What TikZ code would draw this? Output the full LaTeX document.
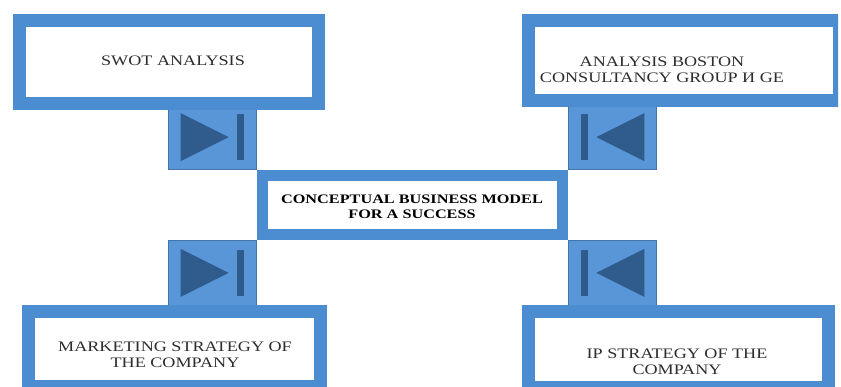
\documentclass[tikz,border=0pt]{standalone}
\usepackage{fontspec}
\setmainfont{Liberation Serif}
\newfontfamily\wideserif[FakeStretch=1.25]{Liberation Serif}
\usetikzlibrary{positioning}

\definecolor{frameblue}{RGB}{76,140,208}
\definecolor{tileblue}{RGB}{88,150,215}
\definecolor{edgeblue}{RGB}{66,118,170}
\definecolor{glyphblue}{RGB}{47,92,140}
\definecolor{labelgray}{RGB}{45,45,45}

\tikzset{
  framebox/.style = {draw=frameblue, fill=white, line width=13pt, inner sep=0pt},
  arrowbox/.style = {draw=edgeblue, fill=tileblue, line width=0.8pt, minimum width=88pt, minimum height=65pt, inner sep=0pt},
  boxlabel/.style = {align=center, text=labelgray, inner sep=0pt, font=\wideserif\fontsize{14.5}{16}\selectfont},
  glyph/.style = {fill=glyphblue},
}

\begin{document}
\begin{tikzpicture}[x=1pt, y=-1pt]
    \clip (0,0) rectangle (841,387);
    \fill[white] (0,0) rectangle (841,387);

    \node[framebox, line width=11pt, minimum width=300pt, minimum height=59pt] (model) at (412.5,205) {};

    \node[arrowbox, anchor=south east] (sqa) at (model.north west) {};
    \node[arrowbox, anchor=south west] (sqb) at (model.north east) {};
    \node[arrowbox, anchor=north east] (sqc) at (model.south west) {};
    \node[arrowbox, anchor=north west] (sqd) at (model.south east) {};

    \foreach \sq/\dir in {sqa/1, sqb/-1, sqc/1, sqd/-1} {
      \begin{scope}[shift={(\sq.center)}, xscale=\dir]
        \fill[glyph] (-32,-24) -- (16,0) -- (-32,24) -- cycle;
        \fill[glyph] (24,-23) rectangle (31,23);
      \end{scope}
    }

    \node[framebox, minimum width=299pt, minimum height=83pt] (swot) at (169,62) {};
    \begin{scope}
      \clip (0,0) rectangle (838,387);
      \node[framebox, minimum width=311pt, minimum height=80pt] (bcg) at (684,60.5) {};
    \end{scope}
    \node[framebox, minimum width=292pt, minimum height=75pt] (marketing) at (174.5,349) {};
    \node[framebox, minimum width=300pt, minimum height=76pt] (ipstrategy) at (678.5,349.5) {};

    \node[boxlabel] (swottext) at (173,61) {SWOT ANALYSIS};
    \node[boxlabel] (bcgtext) at (662,70) {ANALYSIS BOSTON\\CONSULTANCY GROUP И GE};
    \node[boxlabel, text=black, font=\wideserif\bfseries\fontsize{13}{15}\selectfont] (modeltext) at (412,207) {CONCEPTUAL BUSINESS MODEL\\FOR A SUCCESS};
    \node[boxlabel] (marketingtext) at (175,355) {MARKETING STRATEGY OF\\THE COMPANY};
    \node[boxlabel] (iptext) at (677,362) {IP STRATEGY OF THE\\COMPANY};
\end{tikzpicture}
\end{document}
